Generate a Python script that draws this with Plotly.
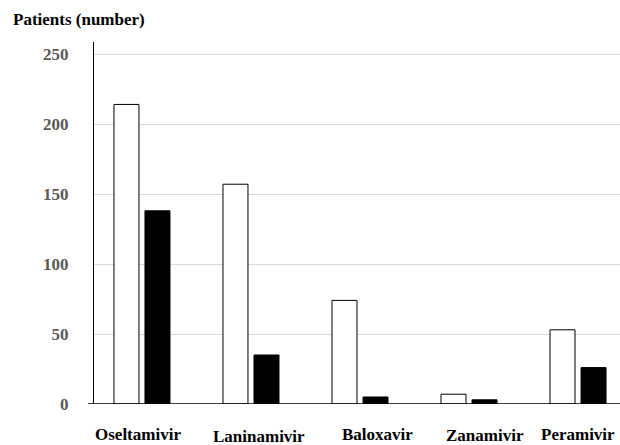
import plotly.graph_objects as go

categories = ["Oseltamivir", "Laninamivir", "Baloxavir", "Zanamivir", "Peramivir"]
series_a = [214, 157, 74, 7, 53]
series_b = [138, 35, 5, 3, 26]
y_ticks = [0, 50, 100, 150, 200, 250]

# small horizontal / vertical nudges of category labels (pixels), as in the reference
label_dx = [-4, 8, 17, 16, 0]
label_dy = [0, -2, 0, -1, 0]

serif = "Liberation Serif, Times New Roman, serif"

fig = go.Figure()
xs = list(range(len(categories)))
fig.add_trace(go.Bar(x=xs, y=series_a, marker=dict(color="white", line=dict(color="black", width=1)), showlegend=False))
fig.add_trace(go.Bar(x=xs, y=series_b, marker=dict(color="black", line=dict(color="black", width=1)), showlegend=False))

annotations = [dict(
    text="Patients (number)", x=-83/526, xref="paper", y=1, yref="paper",
    xanchor="left", yanchor="bottom", yshift=11, showarrow=False,
    font=dict(family=serif, size=17, color="black", weight="bold"),
)]
for i, name in enumerate(categories):
    annotations.append(dict(
        text=name, x=xs[i], xref="x", y=0, yref="y",
        xanchor="center", yanchor="top", xshift=label_dx[i], yshift=-19 + label_dy[i],
        showarrow=False,
        font=dict(family=serif, size=17, color="black", weight="bold"),
    ))

fig.update_layout(
    width=620, height=445,
    margin=dict(l=94, r=0, t=42, b=41),
    paper_bgcolor="white", plot_bgcolor="white",
    barmode="group", bargap=0.431, bargroupgap=0.194,
    xaxis=dict(
        range=[-0.44, 4.385], tickmode="array",
        tickvals=xs, showticklabels=False,
        showgrid=False, showline=False, zeroline=False, ticks="",
        automargin=False,
    ),
    yaxis=dict(
        range=[0, 258.6], tickmode="array", tickvals=y_ticks,
        showgrid=True, gridcolor="#d9d9d9", gridwidth=1,
        showline=True, linecolor="black", linewidth=1,
        zeroline=False, ticks="",
        tickfont=dict(family=serif, size=17, color="#595959", weight="bold"),
        ticklabelstandoff=21, automargin=False,
    ),
    annotations=annotations,
    shapes=[dict(type="line", xref="paper", yref="y", x0=-6/526, x1=1, y0=0, y1=0, line=dict(color="black", width=1.5))],
)

fig.write_html("out.html", config={"displayModeBar": False})

with open("out.html", "r", encoding="utf-8") as f:
    html = f.read()
html = html.replace("<body>", '<body style="margin:0;padding:0;overflow:hidden">', 1)
with open("out.html", "w", encoding="utf-8") as f:
    f.write(html)
